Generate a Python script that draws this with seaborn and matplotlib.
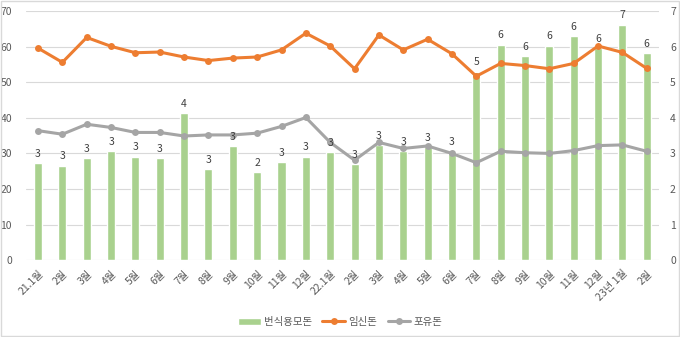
import matplotlib
matplotlib.use("Agg")
import matplotlib.pyplot as plt
from matplotlib.patches import Rectangle
import seaborn as sns
import pandas as pd

# Monthly sow counts: breeding sows (bars, right axis), pregnant and nursing sows (lines, left axis)
months = ['21.1월', '2월', '3월', '4월', '5월', '6월', '7월', '8월', '9월', '10월', '11월', '12월',
          '22.1월', '2월', '3월', '4월', '5월', '6월', '7월', '8월', '9월', '10월', '11월', '12월',
          '23년 1월', '2월']
breeding = [2.73, 2.66, 2.88, 3.07, 2.91, 2.87, 4.13, 2.55, 3.21, 2.48, 2.75, 2.91,
            3.04, 2.69, 3.24, 3.07, 3.17, 3.05, 5.30, 6.06, 5.73, 6.03, 6.31, 5.96,
            6.62, 5.81]
pregnant = [59.6, 55.6, 62.6, 60.1, 58.3, 58.5, 57.1, 56.1, 56.8, 57.1, 59.1, 63.8,
            60.2, 53.8, 63.3, 59.1, 62.1, 58.0, 51.7, 55.3, 54.7, 53.8, 55.3, 60.2,
            58.4, 53.9]
nursing = [36.4, 35.4, 38.2, 37.3, 35.9, 35.9, 34.9, 35.2, 35.2, 35.7, 37.6, 40.1,
           33.1, 28.1, 33.1, 31.4, 32.1, 30.0, 27.4, 30.6, 30.2, 30.0, 30.8, 32.2,
           32.4, 30.6]

df = pd.DataFrame({'idx': range(len(months)), 'breeding': breeding,
                   'pregnant': pregnant, 'nursing': nursing})

sns.set_style("white")
plt.rcParams['font.family'] = ['Noto Sans CJK KR', 'DejaVu Sans']

GREEN, ORANGE, GRAY = '#a9d18e', '#ed7d31', '#a5a5a5'
TXT = '#595959'

fig = plt.figure(figsize=(6.8, 3.37), dpi=100)
ax = fig.add_axes([0.038, 0.228, 0.931, 0.739])
ax2 = ax.twinx()

# Bars on the secondary (right) axis
sns.barplot(data=df, x='idx', y='breeding', color=GREEN, saturation=1,
            width=0.33, ax=ax2, label='번식용모돈')

# Lines on the primary (left) axis, kept in front of the bars
sns.lineplot(data=df, x='idx', y='pregnant', color=ORANGE, lw=2.2, marker='o',
             markersize=5, markeredgewidth=0, ax=ax, label='임신돈')
sns.lineplot(data=df, x='idx', y='nursing', color=GRAY, lw=2.2, marker='o',
             markersize=5, markeredgewidth=0, ax=ax, label='포유돈')
ax.set_zorder(ax2.get_zorder() + 1)
ax.patch.set_visible(False)

ax.set_ylim(0, 70)
ax2.set_ylim(0, 7)

# Bar value labels, placed on the front axes so they sit above the lines
for i, v in enumerate(breeding):
    ax.annotate(f"{round(v)}", xy=(i, v), xycoords=ax2.transData,
                xytext=(0, 3), textcoords='offset points', ha='center',
                va='bottom', fontsize=7.5, color='#404040', zorder=5)

ax.set_xlim(-0.5, len(months) - 0.5)
ax.set_yticks(range(0, 71, 10))
ax2.set_yticks(range(0, 8))
ax2.yaxis.grid(True, color='#d9d9d9', lw=0.8)
ax2.set_axisbelow(True)

ax.set_xticks(range(len(months)))
ax.set_xticklabels(months, rotation=45, ha='right', rotation_mode='anchor')
for a in (ax, ax2):
    a.set_xlabel('')
    a.set_ylabel('')
    for s in a.spines.values():
        s.set_visible(False)
    a.tick_params(length=0, labelsize=7.5, colors=TXT)
ax.tick_params(axis='x', pad=6)
ax.tick_params(axis='y', pad=10)
ax2.tick_params(axis='y', pad=8)

h1, l1 = ax2.get_legend_handles_labels()
h2, l2 = ax.get_legend_handles_labels()
ax.get_legend().remove()
if ax2.get_legend():
    ax2.get_legend().remove()
fig.legend(h1 + h2, l1 + l2, loc='center', bbox_to_anchor=(0.5, 0.045), ncol=3,
           frameon=False, fontsize=7.5, labelcolor=TXT, handlelength=2.2,
           columnspacing=1.0, handletextpad=0.3)

fig.patches.append(Rectangle((0.001, 0.002), 0.997, 0.995, transform=fig.transFigure,
                             fill=False, edgecolor='#d9d9d9', lw=1))

fig.savefig('out.png', dpi=100)
